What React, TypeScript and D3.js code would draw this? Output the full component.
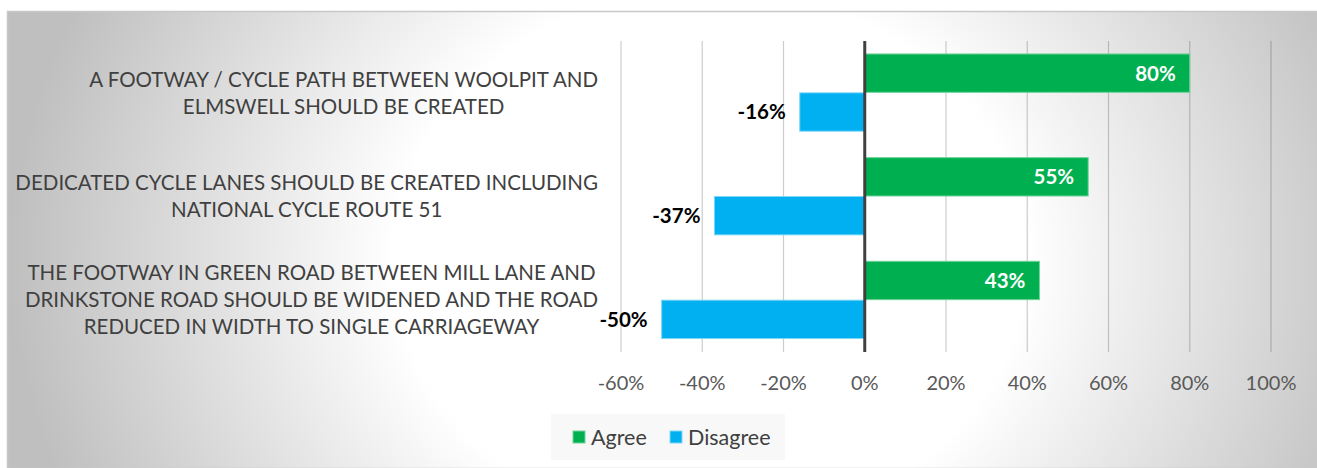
import React, { useEffect, useRef } from "react";
import * as d3 from "d3";

const categories: string[][] = [
  ["A FOOTWAY / CYCLE PATH BETWEEN WOOLPIT AND", "ELMSWELL SHOULD BE CREATED"],
  ["DEDICATED CYCLE LANES SHOULD BE CREATED INCLUDING", "NATIONAL CYCLE ROUTE 51"],
  [
    "THE FOOTWAY IN GREEN ROAD BETWEEN MILL LANE AND",
    "DRINKSTONE ROAD SHOULD BE WIDENED AND THE ROAD",
    "REDUCED IN WIDTH TO SINGLE CARRIAGEWAY",
  ],
];
const agree = [0.8, 0.55, 0.43];
const disagree = [-0.16, -0.37, -0.5];
const seriesNames = ["Agree", "Disagree"];
const seriesColors = ["#00B050", "#00B0F0"];
const xTicks = [-0.6, -0.4, -0.2, 0, 0.2, 0.4, 0.6, 0.8, 1.0];

const W = 1317;
const H = 468;
const FONT = "Lato, 'Open Sans', sans-serif";

const pct = (v: number) => `${Math.round(v * 100)}%`;

export default function App() {
  const ref = useRef<SVGSVGElement>(null);

  useEffect(() => {
    const svg = d3.select(ref.current);
    svg.selectAll("*").remove();

    const defs = svg.append("defs");
    const grad = defs
      .append("radialGradient")
      .attr("id", "bg")
      .attr("gradientUnits", "userSpaceOnUse")
      .attr("cx", 0)
      .attr("cy", 0)
      .attr("r", 1)
      .attr("gradientTransform", "translate(710,260) scale(700,600)");
    grad.append("stop").attr("offset", "0").attr("stop-color", "#ffffff");
    grad.append("stop").attr("offset", "0.45").attr("stop-color", "#ffffff");
    grad.append("stop").attr("offset", "1").attr("stop-color", "#bfbfbf");

    svg
      .append("rect")
      .attr("x", 7.5)
      .attr("y", 11.5)
      .attr("width", W - 7)
      .attr("height", H - 11)
      .attr("fill", "url(#bg)")
      .attr("stroke", "#c8c8c8")
      .attr("stroke-width", 1.5);

    const x = d3.scaleLinear().domain([-0.6, 1.0]).range([621, 1271]);
    const top = 41;
    const bottom = 352;
    const y = d3
      .scaleBand<number>()
      .domain(d3.range(categories.length))
      .range([top, bottom])
      .paddingInner(0.25)
      .paddingOuter(0.125);
    const sub = d3
      .scaleBand<number>()
      .domain([0, 1])
      .range([0, y.bandwidth()]);

    // gridlines
    svg
      .append("g")
      .selectAll("line")
      .data(xTicks.filter((t) => t !== 0))
      .join("line")
      .attr("x1", (d) => x(d))
      .attr("x2", (d) => x(d))
      .attr("y1", top)
      .attr("y2", bottom)
      .attr("stroke", "#000000")
      .attr("stroke-opacity", 0.2)
      .attr("stroke-width", 1.2);

    // tick labels
    svg
      .append("g")
      .selectAll("text")
      .data(xTicks)
      .join("text")
      .attr("x", (d) => x(d))
      .attr("y", 390)
      .attr("text-anchor", "middle")
      .attr("font-family", FONT)
      .attr("font-size", 20)
      .attr("fill", "#595959")
      .text((d) => pct(d));

    const series = [agree, disagree];
    series.forEach((vals, si) => {
      const g = svg.append("g");
      g.selectAll("rect")
        .data(vals)
        .join("rect")
        .attr("x", (d) => x(Math.min(0, d)))
        .attr("width", (d) => Math.abs(x(d) - x(0)))
        .attr("y", (_d, i) => (y(i) as number) + (sub(si) as number))
        .attr("height", sub.bandwidth() - 0.5)
        .attr("fill", seriesColors[si])
        .attr("stroke", si === 0 ? "#6fd49a" : "#7fd6f6")
        .attr("stroke-width", 1);
      g.selectAll("text")
        .data(vals)
        .join("text")
        .attr("x", (d) => x(d) - 14)
        .attr("y", (_d, i) => (y(i) as number) + (sub(si) as number) + sub.bandwidth() / 2)
        .attr("dy", "0.35em")
        .attr("text-anchor", "end")
        .attr("font-family", FONT)
        .attr("font-weight", "bold")
        .attr("font-size", 20.5)
        .attr("fill", (d) => (d >= 0 ? "#ffffff" : "#000000"))
        .text((d) => pct(d));
    });

    // zero axis line
    svg
      .append("line")
      .attr("x1", x(0))
      .attr("x2", x(0))
      .attr("y1", top)
      .attr("y2", bottom)
      .attr("stroke", "#404040")
      .attr("stroke-width", 3);

    // category labels
    const lineH = 27;
    categories.forEach((lines, i) => {
      const cy = (y(i) as number) + y.bandwidth() / 2;
      const g = svg.append("g");
      const texts = g
        .selectAll("text")
        .data(lines)
        .join("text")
        .attr("text-anchor", "middle")
        .attr("font-family", FONT)
        .attr("font-size", 20.5)
        .attr("fill", "#404040")
        .attr("y", (_d, j) => cy + (j - (lines.length - 1) / 2) * lineH)
        .attr("dy", "0.35em")
        .text((d) => d);
      let maxW = 0;
      texts.each(function () {
        maxW = Math.max(maxW, (this as SVGTextElement).getComputedTextLength());
      });
      texts.attr("x", 598 - maxW / 2);
    });

    // legend
    const lg = svg.append("g");
    lg.append("rect")
      .attr("x", 551)
      .attr("y", 414)
      .attr("width", 234)
      .attr("height", 46)
      .attr("fill", "#f8f8f8");
    const legendX = [573, 670];
    seriesNames.forEach((n, i) => {
      lg.append("rect")
        .attr("x", legendX[i])
        .attr("y", 431)
        .attr("width", 12)
        .attr("height", 12)
        .attr("fill", seriesColors[i])
        .attr("stroke", i === 0 ? "#6fd49a" : "#7fd6f6");
      lg.append("text")
        .attr("x", legendX[i] + 18)
        .attr("y", 437)
        .attr("dy", "0.35em")
        .attr("font-family", FONT)
        .attr("font-size", 21.5)
        .attr("fill", "#404040")
        .text(n);
    });
  }, []);

  return (
    <svg
      ref={ref}
      width={W}
      height={H}
      style={{ position: "absolute", left: 0, top: 0 }}
    />
  );
}
